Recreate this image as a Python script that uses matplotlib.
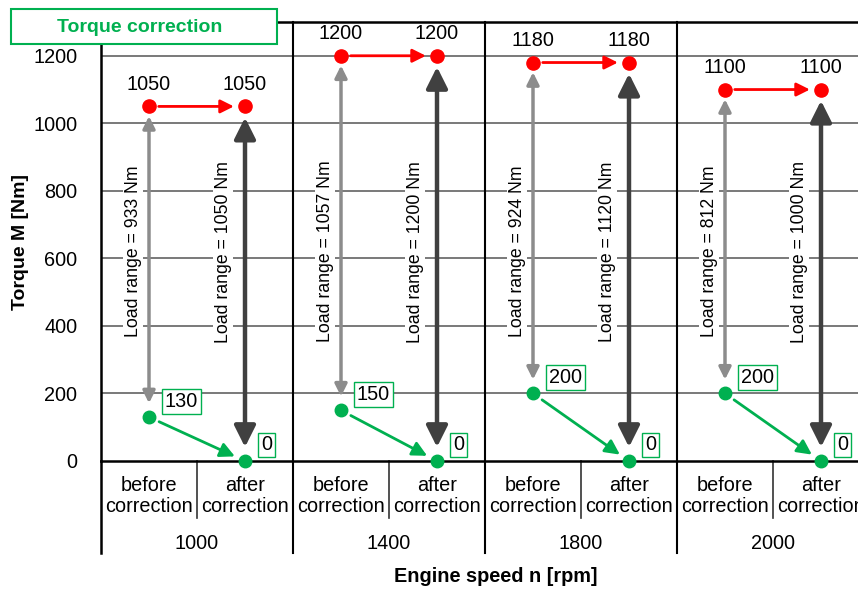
import matplotlib.pyplot as plt
from matplotlib.patches import Rectangle

plt.rcParams['font.family'] = ['Liberation Sans', 'DejaVu Sans']

# data
speeds = [1000, 1400, 1800, 2000]            # rpm
states = ['before\ncorrection', 'after\ncorrection']
max_before = [1050, 1200, 1180, 1100]        # Nm
max_after = [1050, 1200, 1180, 1100]         # Nm
min_before = [130, 150, 200, 200]            # Nm
min_after = [0, 0, 0, 0]                     # Nm
range_before = [933, 1057, 924, 812]         # Nm (as labelled)
range_after = [1050, 1200, 1120, 1000]       # Nm (as labelled)
yticks = [0, 200, 400, 600, 800, 1000, 1200]

RED = '#FF0000'
GREEN = '#00B050'
GREY = '#8C8C8C'
DARK = '#404040'
FS = 14.3

fig = plt.figure(figsize=(8.58, 5.90), dpi=100)
# axes runs a bit past the right edge, like the original crop
ax = fig.add_axes([101 / 858, 129 / 590, 768 / 858, 439 / 590])
ax.set_xlim(0, 2 * len(speeds))
ax.set_ylim(0, 1300)
ymin_table = -272  # bottom of the category table under the axis

ax.set_yticks(yticks)
ax.set_yticklabels([str(v) for v in yticks], fontsize=FS)
ax.tick_params(axis='y', length=0, pad=17)
ax.set_xticks([])
for t in yticks[1:]:
    ax.axhline(t, color='#555555', lw=1.1, zorder=0)
for side in ['left', 'bottom', 'top']:
    ax.spines[side].set_linewidth(1.8)
ax.spines['right'].set_visible(False)

ax.set_ylabel('Torque M [Nm]', fontsize=14, fontweight='bold')
ax.yaxis.set_label_coords(-0.094, 0.5)
fig.text(496 / 858, 1 - 577 / 590, 'Engine speed n [rpm]', fontsize=14.3,
         fontweight='bold', ha='center', va='center')

# category table under the axis
ax.plot([0, 0], [0, ymin_table], color='black', lw=1.8, clip_on=False)
for i, speed in enumerate(speeds):
    x0 = 2 * i
    xb, xa = x0 + 0.5, x0 + 1.5
    if i > 0:
        ax.plot([x0, x0], [1300, ymin_table], color='black', lw=1.5, clip_on=False)
    ax.plot([x0 + 1, x0 + 1], [0, -169], color='#333333', lw=1.2, clip_on=False)
    for k, s in enumerate(states):
        ax.text(x0 + 0.5 + k, -104, s, fontsize=FS, ha='center', va='center',
                linespacing=1.15, clip_on=False)
    ax.text(x0 + 1, -243, str(speed), fontsize=FS, ha='center', va='center')

    # load range arrows
    ax.annotate('', xy=(xb, max_before[i]), xytext=(xb, min_before[i]),
                arrowprops=dict(arrowstyle='<|-|>', color=GREY, lw=2.5,
                                mutation_scale=18, shrinkA=10, shrinkB=7), zorder=3)
    ax.annotate('', xy=(xa, max_after[i]), xytext=(xa, min_after[i]),
                arrowprops=dict(arrowstyle='<|-|>', color=DARK, lw=3.2,
                                mutation_scale=32, shrinkA=10, shrinkB=8), zorder=3)
    ax.annotate('Load range = %d Nm' % range_before[i], xy=(xb, 620),
                xytext=(-16, 0), textcoords='offset pixels', rotation=90,
                fontsize=12.7, ha='center', va='center', zorder=4,
                bbox=dict(boxstyle='square,pad=0.1', fc='white', ec='none'))
    ax.annotate('Load range = %d Nm' % range_after[i], xy=(xa, 620),
                xytext=(-22, 0), textcoords='offset pixels', rotation=90,
                fontsize=12.7, ha='center', va='center', zorder=4,
                bbox=dict(boxstyle='square,pad=0.1', fc='white', ec='none'))

    # correction arrows
    ax.annotate('', xy=(xa, max_after[i]), xytext=(xb, max_before[i]),
                arrowprops=dict(arrowstyle='-|>', color=RED, lw=2,
                                mutation_scale=20, shrinkA=7, shrinkB=8), zorder=3)
    ax.annotate('', xy=(xa, min_after[i]), xytext=(xb, min_before[i]),
                arrowprops=dict(arrowstyle='-|>', color=GREEN, lw=2,
                                mutation_scale=22, shrinkA=8, shrinkB=8), zorder=3)

    # points and value labels
    ax.plot([xb, xa], [max_before[i], max_after[i]], 'o', color=RED, ms=9.5,
            zorder=5, clip_on=False)
    ax.plot([xb, xa], [min_before[i], min_after[i]], 'o', color=GREEN, ms=9,
            zorder=5, clip_on=False)
    for x, v in [(xb, max_before[i]), (xa, max_after[i])]:
        ax.annotate(str(v), xy=(x, v), xytext=(0, 22), textcoords='offset pixels',
                    fontsize=FS, ha='center', va='center')
    for x, v in [(xb, min_before[i]), (xa, min_after[i])]:
        ax.annotate(str(v), xy=(x, v), xytext=(16, 16), textcoords='offset pixels',
                    fontsize=FS, ha='left', va='center', zorder=6,
                    bbox=dict(boxstyle='square,pad=0.15', fc='white', ec=GREEN, lw=1))

# title box in the top left corner
fig.patches.append(Rectangle((11 / 858, 1 - 44 / 590), 266 / 858, 35 / 590,
                             transform=fig.transFigure, fc='white', ec=GREEN,
                             lw=1.5, zorder=10))
fig.text(140 / 858, 1 - 27 / 590, 'Torque correction', color=GREEN, fontsize=14,
         fontweight='bold', ha='center', va='center', zorder=11)

fig.savefig('out.png', dpi=100)
